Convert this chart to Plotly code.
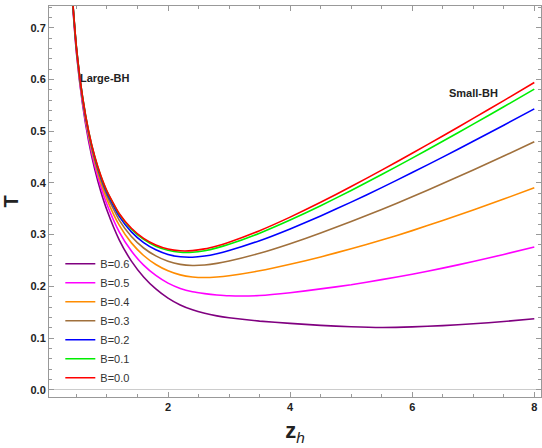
import plotly.graph_objects as go

z_h = [0.4, 0.5, 0.6, 0.7, 0.8, 0.9, 1.0, 1.2, 1.4, 1.6, 1.8, 2.0, 2.2, 2.4, 2.6, 2.8, 3.0,
       3.5, 4.0, 4.5, 5.0, 5.5, 6.0, 6.5, 7.0, 7.5, 8.0]

T_B00 = [0.8108, 0.6616, 0.5665, 0.4997, 0.4509, 0.4137, 0.3843, 0.3409, 0.3122, 0.2927, 0.2800,
         0.2722, 0.2687, 0.2690, 0.2724, 0.2781, 0.2853, 0.3076, 0.3338, 0.3624, 0.3929, 0.4246,
         0.4573, 0.4907, 0.5247, 0.5591, 0.5940]
T_B01 = [0.8106, 0.6613, 0.5661, 0.4992, 0.4502, 0.4128, 0.3833, 0.3395, 0.3104, 0.2906, 0.2776,
         0.2696, 0.2658, 0.2658, 0.2689, 0.2743, 0.2812, 0.3027, 0.3281, 0.3558, 0.3854, 0.4161,
         0.4479, 0.4805, 0.5136, 0.5472, 0.5813]
T_B02 = [0.8100, 0.6604, 0.5649, 0.4975, 0.4481, 0.4103, 0.3801, 0.3352, 0.3052, 0.2844, 0.2706,
         0.2616, 0.2571, 0.2563, 0.2586, 0.2631, 0.2691, 0.2882, 0.3110, 0.3360, 0.3628, 0.3908,
         0.4199, 0.4498, 0.4804, 0.5115, 0.5431]
T_B03 = [0.8090, 0.6589, 0.5628, 0.4948, 0.4447, 0.4060, 0.3749, 0.3281, 0.2964, 0.2741, 0.2588,
         0.2484, 0.2425, 0.2404, 0.2413, 0.2443, 0.2488, 0.2639, 0.2825, 0.3030, 0.3252, 0.3485,
         0.3731, 0.3987, 0.4251, 0.4520, 0.4795]
T_B04 = [0.8076, 0.6568, 0.5599, 0.4911, 0.4399, 0.3999, 0.3677, 0.3182, 0.2840, 0.2596, 0.2422,
         0.2300, 0.2221, 0.2181, 0.2170, 0.2181, 0.2205, 0.2300, 0.2426, 0.2568, 0.2726, 0.2894,
         0.3077, 0.3272, 0.3476, 0.3687, 0.3905]
T_B05 = [0.8058, 0.6541, 0.5562, 0.4862, 0.4336, 0.3922, 0.3583, 0.3054, 0.2682, 0.2409, 0.2210,
         0.2062, 0.1959, 0.1895, 0.1859, 0.1833, 0.1817, 0.1822, 0.1875, 0.1950, 0.2030, 0.2130,
         0.2235, 0.2352, 0.2479, 0.2616, 0.2760]
T_B06 = [0.8036, 0.6508, 0.5517, 0.4803, 0.4261, 0.3827, 0.3469, 0.2898, 0.2488, 0.2182, 0.1950,
         0.1772, 0.1639, 0.1545, 0.1478, 0.1429, 0.1393, 0.1328, 0.1283, 0.1245, 0.1218, 0.1205,
         0.1215, 0.1240, 0.1275, 0.1320, 0.1372]

series = [
    ("B=0.6", T_B06, "#800080"),
    ("B=0.5", T_B05, "#ff00ff"),
    ("B=0.4", T_B04, "#ff8c00"),
    ("B=0.3", T_B03, "#a0703c"),
    ("B=0.2", T_B02, "#0000ff"),
    ("B=0.1", T_B01, "#00ee00"),
    ("B=0.0", T_B00, "#ff0000"),
]

x_ticks = [2, 4, 6, 8]
y_ticks = [0.0, 0.1, 0.2, 0.3, 0.4, 0.5, 0.6, 0.7]

fig = go.Figure()
for name, vals, col in series:
    fig.add_trace(go.Scatter(x=z_h, y=vals, mode="lines", name=name,
                             line=dict(color=col, width=1.6, shape="spline", smoothing=0.5)))

fig.add_annotation(x=0.97, y=0.603, text="Large-BH", showarrow=False,
                   font=dict(family="Liberation Sans", size=11, color="#222", weight="bold"))
fig.add_annotation(x=7.0, y=0.574, text="Small-BH", showarrow=False,
                   font=dict(family="Liberation Sans", size=11, color="#222", weight="bold"))

axis_common = dict(showline=True, linecolor="#999999", linewidth=1, mirror="ticks",
                   ticks="inside", ticklen=5, tickcolor="#999999", showgrid=False,
                   tickfont=dict(family="Liberation Sans", size=11, color="#222", weight="bold"))

fig.update_xaxes(range=[0.05, 8.11], tickvals=x_ticks, zeroline=False,
                 minor=dict(dtick=0.5, ticks="inside", ticklen=3, tickcolor="#999999"),
                 title=dict(text="<b>z</b><sub><i>h</i></sub>", standoff=10,
                            font=dict(family="Liberation Sans", size=22, color="#222")),
                 **axis_common)
fig.update_yaxes(range=[-0.014, 0.742], tickvals=y_ticks, tickformat=".1f",
                 zeroline=True, zerolinecolor="#cccccc", zerolinewidth=1,
                 minor=dict(dtick=0.02, ticks="inside", ticklen=3, tickcolor="#999999"),
                 title=dict(text="<b>T</b>", standoff=12,
                            font=dict(family="Liberation Sans", size=20, color="#222")),
                 **axis_common)

fig.update_layout(
    width=542, height=448,
    margin=dict(l=49, r=1, t=6, b=51),
    plot_bgcolor="white", paper_bgcolor="white",
    showlegend=True,
    legend=dict(x=0.023, y=0.378, xanchor="left", yanchor="top",
                bgcolor="rgba(0,0,0,0)", tracegroupgap=0,
                font=dict(family="Liberation Sans", size=11, color="#333")),
)

fig.write_html("out.html")
